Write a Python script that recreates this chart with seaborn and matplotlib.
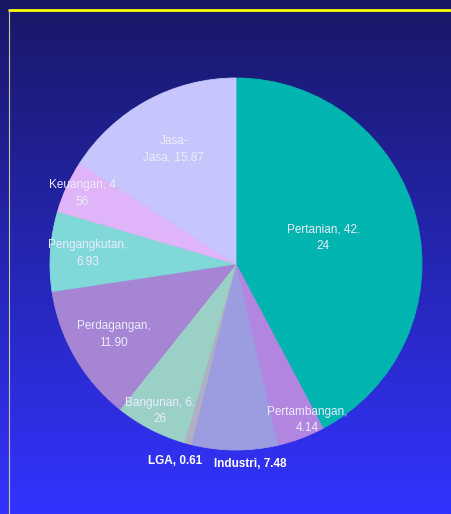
import numpy as np
import matplotlib
matplotlib.use("Agg")
import matplotlib.pyplot as plt
from matplotlib.lines import Line2D
import seaborn as sns

# ============================================================================
# DATA
# ============================================================================

sectors = ['Pertanian', 'Pertambangan', 'Industri', 'LGA', 'Bangunan',
           'Perdagangan', 'Pengangkutan', 'Keuangan', 'Jasa-Jasa']
shares = [42.24, 4.14, 7.48, 0.61, 6.26, 11.90, 6.93, 4.56, 15.87]
label_texts = ['Pertanian, 42.\n24', 'Pertambangan,\n4.14', 'Industri, 7.48',
               'LGA, 0.61', 'Bangunan, 6.\n26', 'Perdagangan,\n11.90',
               'Pengangkutan,\n6.93', 'Keuangan, 4\n56', 'Jasa-\nJasa, 15.87']
slice_colors = ['#00b4b0', '#b286e0', '#9c9ce0', '#b0b0c4', '#9bd0c6',
                '#a685d4', '#80d8d8', '#e0b4f8', '#c6c6fc']

# ============================================================================
# PLOT
# ============================================================================

sns.set_theme(style="white")
plt.rcParams['font.family'] = ['Liberation Sans', 'DejaVu Sans']

W, H = 451, 514
fig = plt.figure(figsize=(W / 100, H / 100), dpi=100)

# gradient background
bg = fig.add_axes([0, 0, 1, 1])
grad = np.linspace(0, 1, 256)[:, None]
top = np.array([0x18, 0x18, 0x66]) / 255
bot = np.array([0x33, 0x33, 0xff]) / 255
img = top[None, None, :] * (1 - grad[..., None]) + bot[None, None, :] * grad[..., None]
bg.imshow(img, aspect='auto', extent=[0, 1, 0, 1])
bg.set_axis_off()

# frame lines
fig.add_artist(Line2D([9 / W, 1], [1 - 10 / H, 1 - 10 / H], color='#ffff00', lw=2))
fig.add_artist(Line2D([9 / W, 9 / W], [0, 1 - 10 / H], color='#c8c8a0', lw=0.8))

# pie
cx, cy, r = 236, 264, 186
ax = fig.add_axes([(cx - r) / W, (H - cy - r) / H, 2 * r / W, 2 * r / H])
palette = sns.color_palette(slice_colors)
wedges, _ = ax.pie(shares, colors=palette, startangle=90, counterclock=False,
                   wedgeprops=dict(linewidth=0.6))
for w in wedges:
    w.set_edgecolor(w.get_facecolor())
ax.set_xlim(-1, 1)
ax.set_ylim(-1, 1)
ax.set_aspect('equal')
ax.set_axis_off()

label_r = [0.49, 0.92, 1.08, 1.11, 0.89, 0.76, 0.80, 0.91, 0.70]
label_shift = [3, 4, 4.5, -2, 0, 0, 0, 0, 0]
bold = [False, False, True, True, False, False, False, False, False]
for w, txt, lr, sh, b in zip(wedges, label_texts, label_r, label_shift, bold):
    ang = np.deg2rad((w.theta1 + w.theta2) / 2 + sh)
    ax.text(lr * np.cos(ang), lr * np.sin(ang), txt, ha='center', va='center',
            fontsize=8.5, color='white' if b else '#ececff',
            fontweight='bold' if b else 'normal', linespacing=1.5,
            clip_on=False)

plt.savefig('out.png', dpi=100)
